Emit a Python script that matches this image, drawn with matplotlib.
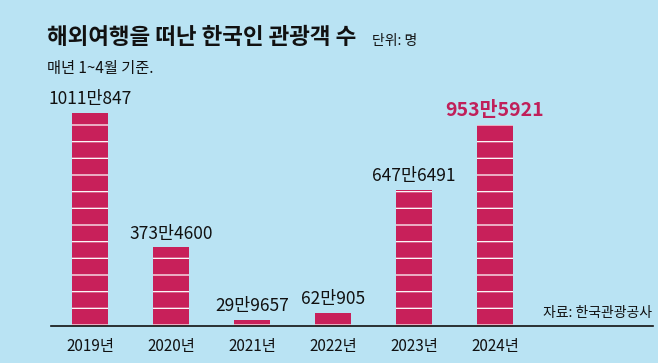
import matplotlib
matplotlib.use("Agg")
import matplotlib.pyplot as plt

plt.rcParams['font.family'] = ['Noto Sans CJK KR', 'DejaVu Sans']
plt.rcParams['hatch.color'] = 'white'
plt.rcParams['hatch.linewidth'] = 0.9

years = ["2019년", "2020년", "2021년", "2022년", "2023년", "2024년"]
values = [1011.0847, 373.46, 29.9657, 62.0905, 647.6491, 953.5921]  # 만 명
labels = ["1011만847", "373만4600", "29만9657", "62만905", "647만6491", "953만5921"]

bg = "#b9e3f3"
bar_color = "#c8205a"
hi_color = "#c0205a"

W, H = 658, 363
fig = plt.figure(figsize=(W / 100, H / 100), dpi=100, facecolor=bg)
ax = fig.add_axes([51 / W, (H - 326) / H, (653 - 51) / W, (326 - 90) / H])
ax.set_facecolor(bg)

x = list(range(len(years)))
bars = ax.bar(x, values, width=0.44, color=bar_color, edgecolor='white',
              linewidth=0, hatch='-')
ax.set_xlim(-0.48, 6.95)
ax.set_ylim(0, 1120)

for i, (v, lab) in enumerate(zip(values, labels)):
    if i == len(values) - 1:
        ax.text(i, v + 22, lab, ha='center', va='bottom', fontsize=14,
                color=hi_color, fontweight='bold')
    else:
        ax.text(i, v + 22, lab, ha='center', va='bottom', fontsize=12.5,
                color='#111111')

for s in ['top', 'right', 'left']:
    ax.spines[s].set_visible(False)
ax.spines['bottom'].set_color('#111111')
ax.spines['bottom'].set_linewidth(1.2)
ax.set_yticks([])
ax.set_xticks(x)
ax.set_xticklabels(years, fontsize=11, color='#111111')
ax.tick_params(axis='x', length=0, pad=9)

fig.text(47 / W, 1 - 37 / H, "해외여행을 떠난 한국인 관광객 수", fontsize=16.2,
         fontweight='bold', color='#111111', va='center', ha='left')
fig.text(372 / W, 1 - 41 / H, "단위: 명", fontsize=10, color='#111111',
         va='center', ha='left')
fig.text(47 / W, 1 - 68 / H, "매년 1~4월 기준.", fontsize=11, color='#111111',
         va='center', ha='left')
fig.text(652 / W, 1 - 313 / H, "자료: 한국관광공사", fontsize=10, color='#111111',
         va='center', ha='right')

fig.savefig("out.png", dpi=100, facecolor=bg)
